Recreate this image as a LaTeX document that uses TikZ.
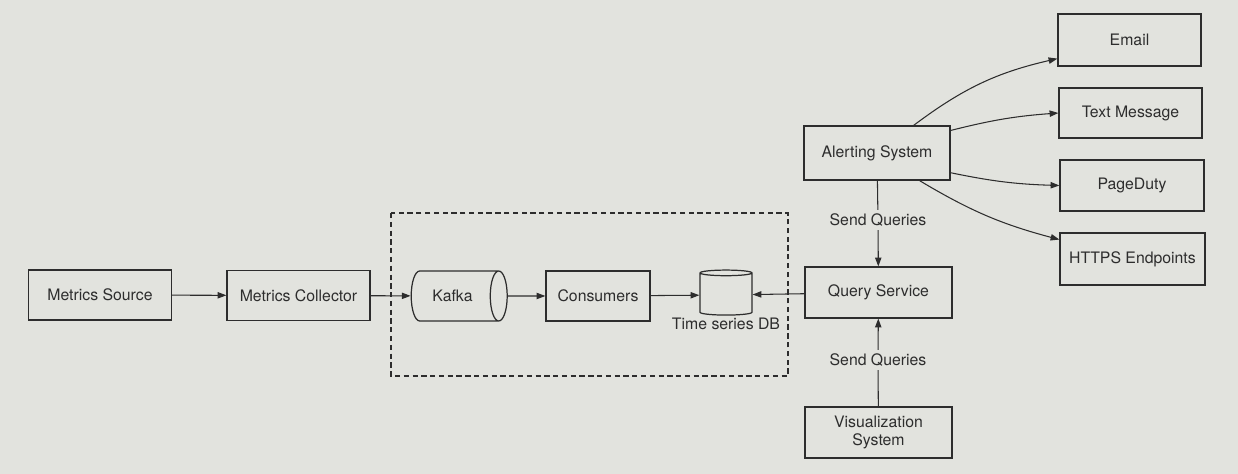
\documentclass[tikz,border=0pt]{standalone}
\usepackage{fontspec}
\setmainfont{TeX Gyre Heros}
\usepackage{xcolor}
\usetikzlibrary{shapes.geometric,arrows.meta,calc}
\definecolor{paper}{RGB}{226,227,222}
\definecolor{ink}{RGB}{45,45,45}
\tikzset{
  box/.style={draw=ink, line width=0.7pt, minimum width=2.86cm, minimum height=1cm,
    inner sep=2pt, align=center, font=\fontsize{9}{10.5}\selectfont},
  flow/.style={draw=ink, line width=0.6pt, -{Triangle[length=5pt,width=3.6pt]}},
  tag/.style={font=\fontsize{9}{10.5}\selectfont, inner sep=2pt}
}

\begin{document}
\begin{tikzpicture}[scale=1, color=ink]
  \fill[paper] (0,0) rectangle (24.76,-9.48);
  \useasboundingbox (0,0) rectangle (24.76,-9.48);
  % pipeline
  \node[box] (src) at (2.0,-5.9) {Metrics Source};
  \node[box] (coll) at (5.97,-5.91) {Metrics Collector};
  \node[box, shape=cylinder, aspect=0.9, minimum width=1cm, minimum height=1.92cm] (kafka) at (9.05,-5.92) {Kafka};
  \node[box, minimum width=2.08cm] (cons) at (11.96,-5.92) {Consumers};
  \node[box, shape=cylinder, shape border rotate=90, aspect=0.8, minimum width=1.04cm, minimum height=0.9cm,
    label={[tag, yshift=1pt]below:Time series DB}] (tsdb) at (14.52,-5.9) {};
  \draw[ink, line width=0.6pt, dash pattern=on 3pt off 2pt] (7.82,-4.26) rectangle (15.76,-7.52);
  % query side
  \node[box, minimum width=2.94cm, minimum height=1.02cm] (query) at (17.57,-5.85) {Query Service};
  \node[box, minimum width=2.92cm, minimum height=1.08cm] (alert) at (17.54,-3.06) {Alerting System};
  \node[box, minimum width=2.94cm, minimum height=1.02cm] (vis) at (17.57,-8.65) {Visualization\\System};
  \node[tag] (sq1) at (17.56,-4.4) {Send Queries};
  \node[tag] (sq2) at (17.56,-7.2) {Send Queries};
  % channels
  \node[box, minimum height=1.04cm] (email) at (22.59,-0.8) {Email};
  \node[box] (sms) at (22.61,-2.26) {Text Message};
  \node[box, minimum width=2.88cm, minimum height=1.02cm] (pd) at (22.64,-3.71) {PageDuty};
  \node[box, minimum width=2.9cm, minimum height=1.04cm] (https) at (22.65,-5.18) {HTTPS Endpoints};

  \draw[flow] (src) -- (coll);
  \draw[flow] (coll) -- (kafka);
  \draw[flow] (kafka) -- (cons);
  \draw[flow] (cons) -- (tsdb);
  \draw[flow] (query) -- (tsdb);
  \draw[draw=ink, line width=0.6pt] (alert) -- (sq1);
  \draw[flow] (sq1) -- (query);
  \draw[draw=ink, line width=0.6pt] (vis) -- (sq2);
  \draw[flow] (sq2) -- (query);
  \draw[flow] (alert.37) to[bend left=12] ($(email.south west)!0.3!(email.west)$);
  \draw[flow] (alert.17) to[bend left=5] (sms.west);
  \draw[flow] (alert.-15) to[bend right=5] (pd.west);
  \draw[flow] (alert.-33) to[bend right=8] ($(https.north west)!0.27!(https.west)$);
\end{tikzpicture}
\end{document}
